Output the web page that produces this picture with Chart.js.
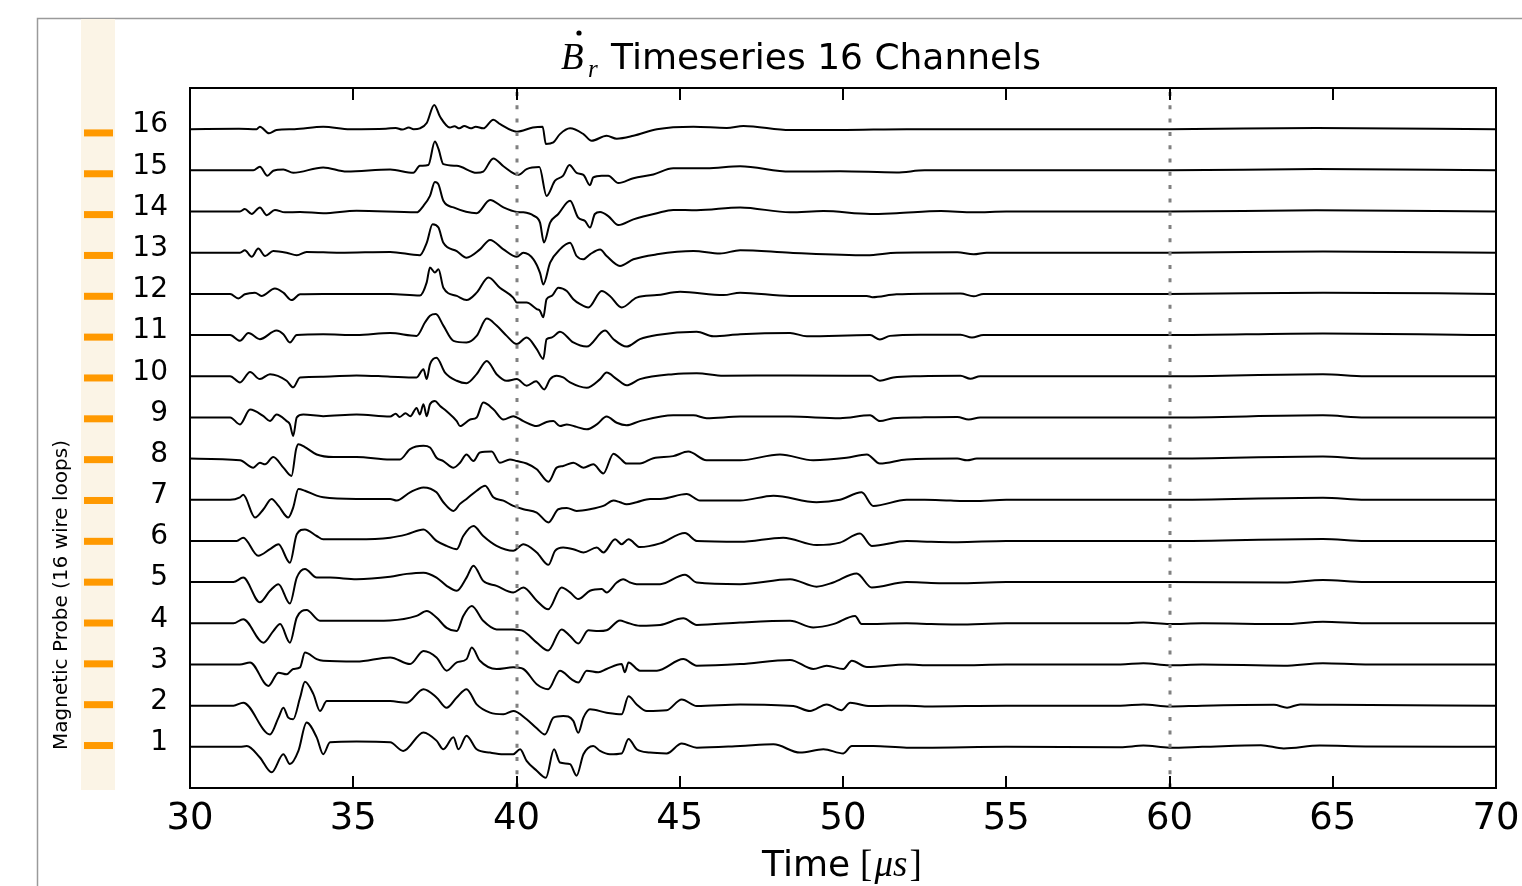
<!DOCTYPE html>
<html>
<head>
<meta charset="utf-8">
<script src="https://cdn.jsdelivr.net/npm/chart.js@4.4.1/dist/chart.umd.min.js"></script>
<style>
  html, body { margin: 0; padding: 0; background: #fff; }
  #wrap { width: 1522px; height: 886px; position: relative; }
</style>
</head>
<body>
<div id="wrap"><canvas id="probeChart" width="1522" height="886"></canvas></div>
<script>
// x axis ticks (µs) and the two marker times
const xTicks = [30, 35, 40, 45, 50, 55, 60, 65, 70];
const markerTimes = [40, 60];
const channels = [1, 2, 3, 4, 5, 6, 7, 8, 9, 10, 11, 12, 13, 14, 15, 16];

// [time µs, signal] per channel, signal in units of channel spacing
const ch1 = [[30,0],[31.53,0],[31.74,0.02],[32.14,-0.26],[32.5,-0.62],[32.86,-0.18],[33.06,-0.42],[33.32,-0.1],[33.57,0.59],[33.88,0.23],[34.08,-0.18],[34.29,0.11],[35.1,0.13],[36.13,0.11],[36.53,-0.1],[37.15,0.35],[37.55,0.15],[37.76,-0.06],[38.07,0.23],[38.22,-0.06],[38.47,0.27],[38.78,-0.06],[39.19,-0.14],[39.6,-0.18],[39.9,-0.18],[40.11,-0.06],[40.31,-0.34],[40.62,-0.58],[40.9,-0.75],[41.15,-0.06],[41.33,-0.38],[41.64,-0.42],[41.84,-0.7],[42.05,-0.18],[42.35,0.02],[42.56,-0.1],[42.86,-0.18],[43.22,-0.16],[43.43,0.19],[43.68,-0.06],[44.09,-0.14],[44.6,-0.16],[45.06,0.08],[45.52,-0.02],[46.85,0.02],[47.87,0.06],[48.68,-0.14],[49.4,-0.06],[50.01,-0.16],[50.27,0.02],[50.93,0.02],[51.95,-0.02],[52.5,-0.02],[55,0],[58.5,-0.01],[59.2,0.03],[60,-0.02],[61,0],[62.8,0.04],[63.5,-0.04],[64.6,0.03],[66,0.01],[70,0]];
const ch2 = [[30,0],[31.33,0],[31.63,0.07],[32.45,-0.7],[32.71,-0.29],[32.86,-0.05],[33.01,-0.29],[33.16,-0.33],[33.37,0.19],[33.52,0.58],[33.78,0.28],[33.98,-0.13],[34.19,0.11],[35.1,0.11],[36.13,0.11],[36.64,0.07],[37.15,0.4],[37.55,0.2],[37.86,-0.05],[38.17,0.2],[38.47,0.4],[38.78,0.03],[39.19,-0.17],[39.6,-0.21],[39.9,-0.13],[40.31,-0.33],[40.62,-0.55],[40.87,-0.7],[41.13,-0.29],[41.43,-0.25],[41.74,-0.37],[41.89,-0.66],[42.05,-0.29],[42.25,-0.09],[42.76,-0.17],[43.22,-0.21],[43.43,0.23],[43.68,0.03],[43.99,-0.13],[44.6,-0.11],[45.06,0.15],[45.52,-0.01],[46.85,0.03],[48.48,-0.01],[48.99,-0.13],[49.5,0.03],[49.96,-0.11],[50.22,0.07],[50.83,-0.01],[51.95,0],[52.5,-0.02],[55,0],[58.5,0],[59.2,0.03],[60,-0.02],[61,0],[63.2,0.02],[63.6,-0.05],[64,0.03],[65,0.02],[70,0]];
const ch3 = [[30,0],[31.53,0],[31.84,0.05],[32.4,-0.52],[32.71,-0.2],[32.96,-0.24],[33.16,-0.11],[33.37,-0.07],[33.52,0.29],[33.88,0.13],[34.08,0.09],[35.1,0.07],[36.13,0.17],[36.74,0.01],[37.15,0.33],[37.55,0.17],[37.86,-0.15],[38.17,0.05],[38.47,0.13],[38.63,0.41],[38.88,0.09],[39.39,-0.11],[39.9,-0.07],[40.21,-0.11],[40.62,-0.48],[40.97,-0.6],[41.33,-0.15],[41.69,-0.36],[41.89,-0.44],[42.15,-0.15],[42.51,-0.19],[42.76,-0.11],[43.22,0.01],[43.32,-0.19],[43.43,0.05],[43.78,-0.15],[44.3,-0.15],[45.11,0.13],[45.52,-0.03],[46.85,0.01],[48.38,0.11],[49.09,-0.11],[49.5,-0.03],[50.01,-0.11],[50.27,0.09],[50.73,-0.06],[51.95,0],[52.7,-0.02],[53.5,-0.02],[55,0],[58.5,0],[59.2,0.03],[60,-0.02],[61,0],[63.5,-0.03],[64.7,0.03],[66,0],[70,0]];
const ch4 = [[30,0],[31.33,0],[31.63,0.1],[32.25,-0.47],[32.55,-0.19],[32.76,-0.02],[33.06,-0.47],[33.27,0.14],[33.57,0.32],[33.98,0.06],[34.29,0.06],[35.1,0.06],[36.13,0.07],[36.94,0.18],[37.25,0.3],[37.55,0.14],[37.86,-0.11],[38.17,-0.19],[38.37,0.18],[38.63,0.42],[38.98,0.06],[39.39,-0.15],[39.9,-0.15],[40.21,-0.19],[40.62,-0.47],[40.97,-0.66],[41.38,-0.15],[41.64,-0.31],[41.89,-0.49],[42.2,-0.17],[42.51,-0.19],[42.76,-0.17],[43.17,0.07],[43.37,0.02],[43.78,-0.06],[44.4,-0.04],[45.11,0.12],[45.52,-0.04],[46.85,0.02],[48.38,0.06],[49.09,-0.1],[49.7,-0.02],[50.37,0.18],[50.57,-0.02],[51.95,0],[52.7,-0.02],[53.5,-0.03],[55,0],[58.5,0],[59.2,0.02],[60,-0.02],[61,0],[63.5,-0.02],[64.7,0.04],[66,0],[70,0]];
const ch5 = [[30,0],[31.33,0],[31.63,0.11],[32.14,-0.49],[32.45,-0.21],[32.71,-0.05],[33.06,-0.52],[33.27,0.11],[33.52,0.32],[33.88,0.11],[34.29,0.11],[35.1,0.07],[36.13,0.13],[36.64,0.2],[37.15,0.23],[37.55,0.11],[37.86,-0.09],[38.17,-0.21],[38.47,0.11],[38.68,0.4],[38.98,0.03],[39.39,-0.09],[39.9,-0.25],[40.21,-0.13],[40.62,-0.45],[40.97,-0.66],[41.38,-0.13],[41.64,-0.25],[41.89,-0.41],[42.25,-0.21],[42.61,-0.17],[42.76,-0.25],[43.07,-0.01],[43.27,0.07],[43.48,-0.01],[43.68,-0.05],[44.4,-0.05],[45.16,0.18],[45.52,-0.01],[46.85,-0.05],[48.38,0.07],[49.19,-0.11],[49.7,-0.01],[50.42,0.21],[50.88,-0.13],[51.95,0],[52.7,-0.02],[53.5,-0.03],[55,0],[60,0],[63.5,-0.01],[64.7,0.05],[66,0],[70,0]];
const ch6 = [[30,0],[31.43,0],[31.63,0.08],[32.09,-0.36],[32.45,-0.2],[32.71,-0.08],[33.06,-0.53],[33.27,0.16],[33.52,0.28],[33.88,0.12],[34.08,0.04],[35.1,0.04],[36.13,0.08],[36.64,0.16],[37.15,0.28],[37.55,0],[37.86,-0.12],[38.17,-0.2],[38.37,0.12],[38.68,0.36],[38.98,0.12],[39.39,-0.12],[39.9,-0.24],[40.21,-0.08],[40.62,-0.28],[40.98,-0.58],[41.18,-0.24],[41.43,-0.16],[41.74,-0.2],[42.05,-0.28],[42.46,-0.16],[42.66,-0.28],[43.02,0.04],[43.22,-0.08],[43.43,0.04],[43.78,-0.15],[44.4,-0.06],[45.16,0.19],[45.52,0],[46.85,-0.02],[48.17,0.08],[49.19,-0.1],[49.91,-0.04],[50.52,0.18],[50.88,-0.12],[51.95,0],[52.7,-0.02],[53.5,-0.03],[55,0],[60,0],[64.7,0.05],[66,0],[70,0]];
const ch7 = [[30,0],[31.23,0],[31.53,0.06],[31.63,0.12],[31.99,-0.43],[32.25,-0.23],[32.5,0.02],[32.71,-0.15],[33.01,-0.43],[33.16,-0.19],[33.32,0.26],[33.52,0.22],[33.88,0.1],[34.08,0.06],[35.1,0.02],[36.13,0.02],[36.33,-0.02],[36.74,0.18],[37.15,0.3],[37.55,0.18],[37.76,-0.06],[38.07,-0.27],[38.27,-0.1],[38.47,0.02],[38.78,0.22],[39.04,0.34],[39.29,0.06],[39.6,-0.02],[39.9,-0.15],[40.21,-0.23],[40.62,-0.31],[40.98,-0.55],[41.28,-0.23],[41.54,-0.2],[41.84,-0.27],[42.25,-0.23],[42.66,-0.15],[42.97,-0.02],[43.17,-0.06],[43.37,-0.11],[43.68,-0.06],[44.09,0.02],[44.4,0.02],[45.21,0.14],[45.62,-0.02],[46.85,-0.02],[47.87,0.1],[49.19,-0.06],[49.91,0],[50.57,0.18],[50.93,-0.15],[51.95,0],[52.5,0],[53.3,-0.02],[54,-0.03],[55,0],[60,0],[64.7,0.05],[66,0],[70,0]];
const ch8 = [[30,0],[31.53,-0.04],[31.94,-0.22],[32.14,-0.1],[32.3,-0.14],[32.55,0.04],[32.86,-0.22],[33.11,-0.42],[33.25,0.23],[33.32,0.35],[33.52,0.28],[33.88,0.1],[34.39,0.04],[35.1,0.04],[36.13,-0.02],[36.43,-0.02],[36.74,0.23],[37.15,0.31],[37.35,0.27],[37.55,0.02],[37.76,-0.06],[38.07,-0.22],[38.27,-0.1],[38.47,0.1],[38.68,-0.06],[38.88,0.15],[39.24,0.17],[39.49,-0.1],[39.8,-0.02],[40.01,-0.06],[40.31,-0.12],[40.62,-0.26],[40.98,-0.56],[41.23,-0.22],[41.43,-0.18],[41.74,-0.1],[42.05,-0.22],[42.35,-0.14],[42.66,-0.36],[42.97,0.12],[43.17,0.01],[43.37,-0.12],[43.78,-0.12],[44.19,0.01],[44.8,0.06],[45.26,0.17],[45.82,-0.04],[46.85,-0.04],[48.07,0.1],[49.09,-0.04],[50.11,0.02],[50.73,0.1],[51.13,-0.12],[51.95,-0.02],[53.5,0],[53.8,-0.04],[54.1,0],[60,0],[64.7,0.05],[66,0],[70,0]];
const ch9 = [[30,0],[31.23,0],[31.53,-0.17],[31.84,0.19],[32.25,0.03],[32.45,-0.09],[32.65,0.07],[32.96,-0.09],[33.06,-0.17],[33.16,-0.45],[33.27,0],[33.47,0.07],[34.08,0.03],[35.1,0.07],[36.13,0.02],[36.3,0.09],[36.42,0.01],[36.6,0.1],[36.75,0.03],[36.94,0.23],[37.04,0.07],[37.15,0.32],[37.25,0.03],[37.35,0.32],[37.5,0.4],[37.66,0.28],[37.86,0.15],[38.17,-0.09],[38.27,-0.21],[38.58,-0.05],[38.78,0],[38.98,0.36],[39.29,0.2],[39.6,-0.05],[39.9,0.03],[40.21,-0.09],[40.62,-0.21],[40.92,-0.11],[41.13,-0.09],[41.33,-0.21],[41.54,-0.17],[41.84,-0.23],[42.15,-0.29],[42.46,-0.17],[42.76,0.02],[43.07,-0.13],[43.37,-0.19],[43.78,-0.09],[44.8,0.05],[45.42,0.05],[45.82,-0.02],[46.85,0.02],[48.38,0.02],[49.91,-0.02],[50.83,0.05],[51.13,-0.09],[51.54,-0.02],[52.36,0],[53.5,0.01],[53.85,-0.05],[54.2,0],[60,0],[64.7,0.05],[66,0],[70,0]];
const ch10 = [[30,0],[31.23,0],[31.53,-0.15],[31.84,0.1],[32.14,-0.07],[32.45,0.05],[32.96,-0.11],[33.16,-0.27],[33.37,-0.03],[34.08,-0.01],[35.1,0.02],[36.13,-0.01],[36.94,-0.03],[37.15,0.17],[37.25,-0.07],[37.35,0.29],[37.55,0.45],[37.81,0.09],[38.17,-0.11],[38.47,-0.17],[38.78,0.05],[39.09,0.37],[39.39,0.05],[39.7,-0.11],[40.01,-0.07],[40.31,-0.23],[40.6,-0.12],[40.85,-0.32],[41.03,-0.07],[41.23,0.01],[41.43,-0.03],[41.64,-0.15],[42.15,-0.28],[42.56,-0.07],[42.76,0.09],[43.07,-0.07],[43.37,-0.22],[43.78,-0.07],[44.8,0.05],[45.52,0.07],[46.34,0.01],[48.38,0.02],[50.83,0.01],[51.13,-0.11],[51.54,-0.03],[52.36,0],[53.6,0.01],[53.9,-0.06],[54.2,0],[60,0],[64.7,0.05],[66,0],[70,0]];
const ch11 = [[30,0],[31.23,0],[31.53,-0.14],[31.79,0.05],[32.14,-0.1],[32.65,0.11],[32.86,0.02],[33.06,-0.18],[33.27,0],[34.08,0.02],[35.1,0],[36.13,0.05],[36.94,-0.02],[37.2,0.31],[37.35,0.47],[37.53,0.51],[37.76,0.23],[38.07,-0.14],[38.47,-0.18],[38.78,-0.02],[39.09,0.4],[39.39,0.23],[39.7,-0.02],[40.01,-0.22],[40.31,-0.06],[40.62,-0.34],[40.82,-0.58],[40.92,-0.1],[41.08,-0.06],[41.33,0.08],[41.74,-0.18],[42.15,-0.28],[42.71,0.11],[42.97,-0.1],[43.37,-0.28],[43.78,-0.1],[44.3,0],[45.52,0.08],[46.03,-0.03],[46.85,0.02],[48.38,0.05],[48.89,-0.03],[50.83,0],[51.13,-0.11],[51.44,-0.02],[52.36,0.01],[53.6,0.01],[53.95,-0.06],[54.3,0],[60,0],[64.7,0.04],[70,0]];
const ch12 = [[30,0],[31.23,0],[31.48,-0.11],[31.68,-0.01],[31.99,0.03],[32.19,-0.05],[32.6,0.13],[32.86,0.03],[33.11,-0.15],[33.37,-0.01],[34.08,0],[36.13,0],[37.04,-0.04],[37.25,0.28],[37.35,0.64],[37.5,0.52],[37.61,0.6],[37.76,0.15],[38.17,-0.05],[38.47,-0.15],[38.78,0.03],[39.14,0.4],[39.49,0.15],[39.9,-0.09],[40.01,-0.21],[40.31,-0.21],[40.62,-0.37],[40.72,-0.41],[40.82,-0.57],[40.92,-0.13],[41.08,-0.05],[41.28,0.15],[41.54,0.07],[41.74,-0.13],[41.95,-0.25],[42.2,-0.33],[42.61,0.07],[42.86,-0.05],[43.22,-0.33],[43.68,-0.09],[44.3,-0.03],[45.01,0.05],[46.34,-0.03],[46.85,0.03],[48.38,-0.05],[50.73,-0.05],[50.9,-0.08],[51.64,-0.01],[53.6,0.01],[54,-0.06],[54.3,0],[60,0],[64.7,0.03],[70,0]];
const ch13 = [[30,0],[31.53,0],[31.68,0.06],[31.89,-0.1],[32.09,0.1],[32.3,-0.08],[32.55,0.04],[32.96,0],[33.27,-0.06],[33.57,0.02],[34.59,0],[36.13,0.02],[37.04,-0.06],[37.25,0.24],[37.43,0.69],[37.61,0.61],[37.76,0.24],[38.17,0.04],[38.47,-0.12],[38.88,0.08],[39.19,0.31],[39.6,0.08],[40.01,-0.1],[40.21,0],[40.52,-0.16],[40.72,-0.49],[40.82,-0.77],[41.03,-0.24],[41.33,0.08],[41.64,0.24],[41.84,-0.08],[42.05,-0.16],[42.25,-0.04],[42.56,0.08],[42.76,-0.08],[43.17,-0.32],[43.58,-0.16],[44.3,-0.04],[45.42,0.04],[46.23,-0.02],[46.85,0.06],[48.38,0],[50.73,-0.06],[51.64,0],[53.5,0.01],[54,-0.04],[54.4,0],[60,0],[64.7,0.03],[70,0]];
const ch14 = [[30,0],[31.53,0],[31.68,0.06],[31.89,-0.06],[32.14,0.1],[32.35,-0.09],[32.6,0.04],[32.91,-0.02],[33.37,-0.01],[34.08,-0.04],[35.1,0.02],[36.94,-0.02],[37.15,0.14],[37.35,0.38],[37.5,0.72],[37.61,0.66],[37.76,0.26],[38.07,0.1],[38.78,-0.04],[39.19,0.28],[39.6,0.1],[40.01,-0.01],[40.21,-0.02],[40.52,-0.1],[40.72,-0.27],[40.84,-0.75],[41.03,-0.27],[41.28,-0.06],[41.64,0.26],[41.89,-0.15],[42.1,-0.23],[42.25,-0.39],[42.4,-0.06],[42.56,-0.01],[42.81,-0.11],[43.12,-0.33],[43.58,-0.19],[44.3,-0.04],[44.8,0.04],[45.52,0.03],[46.85,0.1],[48.38,-0.02],[49.4,0.01],[50.83,-0.06],[51.64,-0.04],[53,0.01],[54,-0.02],[55,0],[60,0],[64.5,0.03],[70,0]];
const ch15 = [[30,0],[31.94,0],[32.14,0.09],[32.37,-0.13],[32.55,-0.01],[32.86,0.02],[33.16,-0.06],[34.08,0.07],[34.8,-0.03],[36.13,0.02],[36.84,-0.06],[37.04,0.11],[37.3,0.13],[37.5,0.7],[37.61,0.52],[37.76,0.15],[38.17,0.11],[38.78,-0.06],[38.98,-0.03],[39.29,0.29],[39.6,0.1],[40.06,-0.11],[40.31,0.03],[40.7,0.08],[40.92,-0.62],[41.18,-0.25],[41.43,-0.13],[41.62,0.13],[41.84,-0.06],[42.05,-0.11],[42.25,-0.36],[42.35,-0.17],[42.61,-0.13],[42.81,-0.13],[43.12,-0.31],[43.58,-0.19],[44.19,-0.1],[44.8,0.05],[45.82,0.05],[46.85,0.1],[48.38,-0.03],[49.91,-0.02],[51.64,-0.05],[52.5,0],[60,0],[64.5,0.03],[70,0]];
const ch16 = [[30,0],[31.5,0.01],[32.04,0],[32.14,0.06],[32.42,-0.1],[32.65,-0.02],[33.2,0],[34.08,0.06],[34.9,0],[36,0.01],[36.3,0.03],[36.5,-0.01],[36.7,0.04],[36.85,0],[37.04,0.02],[37.25,0.15],[37.48,0.59],[37.66,0.3],[37.96,0.04],[38.1,0.07],[38.25,0.02],[38.4,0.08],[38.6,0.02],[38.75,0.06],[38.98,0.02],[39.29,0.23],[39.5,0.12],[40.01,-0.06],[40.5,0.04],[40.8,0.06],[40.9,-0.36],[41.13,-0.32],[41.33,-0.12],[41.64,0.02],[42.05,-0.12],[42.3,-0.28],[42.76,-0.16],[43.07,-0.23],[43.58,-0.16],[44.3,0],[45.42,0.06],[46.44,0.03],[46.95,0.08],[48.38,-0.02],[49.91,-0.02],[51.95,0],[55,0],[60,0],[64.5,0.03],[70,0]];

const series = [ch1, ch2, ch3, ch4, ch5, ch6, ch7, ch8, ch9, ch10, ch11, ch12, ch13, ch14, ch15, ch16];

// each channel is drawn on its own baseline (channel number)
const datasets = channels.map((k, i) => ({
  label: 'Channel ' + k,
  data: series[i].map(([t, v]) => ({ x: t, y: k + v })),
  borderColor: '#000',
  borderWidth: 2,
  pointRadius: 0,
  cubicInterpolationMode: 'monotone',
  fill: false
}));

// titles, probe strip, dotted markers, frame and inward ticks
const decor = {
  id: 'decor',
  beforeDraw(chart) {
    const { ctx, chartArea: a, scales } = chart;
    ctx.save();
    ctx.fillStyle = '#fff';
    ctx.fillRect(0, 0, chart.width, chart.height);

    ctx.strokeStyle = '#9a9a9a';
    ctx.lineWidth = 1.5;
    ctx.beginPath();
    ctx.moveTo(37.5, chart.height);
    ctx.lineTo(37.5, 18.5);
    ctx.lineTo(chart.width, 18.5);
    ctx.stroke();

    ctx.fillStyle = '#fbf4e6';
    ctx.fillRect(81, 19, 34, a.bottom + 2 - 19);
    ctx.fillStyle = '#ff9900';
    channels.forEach(k => {
      const y = scales.probe.getPixelForValue(k);
      ctx.fillRect(84, y - 3.5, 29, 7);
    });

    ctx.translate(62, 595);
    ctx.rotate(-Math.PI / 2);
    ctx.fillStyle = '#000';
    ctx.font = '20px "DejaVu Sans"';
    ctx.textAlign = 'center';
    ctx.textBaseline = 'middle';
    ctx.fillText('Magnetic Probe (16 wire loops)', 0, 0);
    ctx.restore();
  },
  afterDatasetsDraw(chart) {
    const { ctx, chartArea: a, scales } = chart;
    const x = scales.x;
    ctx.save();
    ctx.strokeStyle = '#808080';
    ctx.lineWidth = 3;
    ctx.setLineDash([4, 9.3]);
    markerTimes.forEach(t => {
      const px = Math.round(x.getPixelForValue(t));
      ctx.beginPath();
      ctx.moveTo(px, a.top + 4);
      ctx.lineTo(px, a.bottom);
      ctx.stroke();
    });
    ctx.setLineDash([]);

    ctx.strokeStyle = '#000';
    ctx.lineWidth = 2;
    xTicks.slice(1, -1).forEach(t => {
      const px = Math.round(x.getPixelForValue(t));
      ctx.beginPath();
      ctx.moveTo(px, a.bottom);
      ctx.lineTo(px, a.bottom - 12);
      ctx.moveTo(px, a.top);
      ctx.lineTo(px, a.top + 12);
      ctx.stroke();
    });
    ctx.strokeRect(a.left, a.top, a.right - a.left, a.bottom - a.top);
    ctx.restore();
  },
  afterDraw(chart) {
    const { ctx } = chart;
    ctx.save();
    ctx.fillStyle = '#000';
    ctx.textBaseline = 'alphabetic';
    ctx.textAlign = 'left';
    // title: B-dot with subscript r
    ctx.font = 'italic 37px "Liberation Serif"';
    ctx.fillText('B', 561, 69);
    ctx.beginPath();
    ctx.arc(579, 33, 2.6, 0, Math.PI * 2);
    ctx.fill();
    ctx.font = 'italic 25px "Liberation Serif"';
    ctx.fillText('r', 588, 77);
    ctx.font = '36px "DejaVu Sans"';
    ctx.fillText('Timeseries 16 Channels', 611, 69);

    // x axis title
    ctx.font = '36px "DejaVu Sans"';
    ctx.fillText('Time', 762, 876);
    const tx = 762 + ctx.measureText('Time').width + 10;
    ctx.font = '37px "Liberation Serif"';
    ctx.fillText('[', tx, 876);
    const bw = ctx.measureText('[').width;
    ctx.font = 'italic 37px "Liberation Serif"';
    ctx.fillText('μs', tx + bw + 2, 876);
    const mw = ctx.measureText('μs').width;
    ctx.font = '37px "Liberation Serif"';
    ctx.fillText(']', tx + bw + 4 + mw, 876);
    ctx.restore();
  }
};

new Chart(document.getElementById('probeChart'), {
  type: 'line',
  data: { datasets },
  options: {
    responsive: false,
    animation: false,
    devicePixelRatio: 1,
    layout: { padding: { left: 0, right: 26, top: 88, bottom: 0 } },
    plugins: {
      legend: { display: false },
      tooltip: { enabled: false },
      title: { display: false }
    },
    scales: {
      x: {
        type: 'linear',
        min: 30,
        max: 70,
        afterBuildTicks: s => { s.ticks = xTicks.map(v => ({ value: v })); },
        afterFit: s => { s.height = 98; s.paddingLeft = 0; s.paddingRight = 0; },
        grid: { display: false, drawTicks: false },
        border: { display: false },
        ticks: { font: { family: 'DejaVu Sans', size: 37 }, color: '#000', padding: 9, maxRotation: 0, autoSkip: false }
      },
      y: {
        min: 0,
        max: 17,
        afterBuildTicks: s => { s.ticks = channels.map(v => ({ value: v })); },
        afterFit: s => { s.width = 190; s.paddingTop = 0; s.paddingBottom = 0; },
        grid: { display: false, drawTicks: false },
        border: { display: false },
        ticks: { font: { family: 'DejaVu Sans', size: 28 }, color: '#000', padding: 22, labelOffset: -4, autoSkip: false }
      },
      probe: {
        position: 'left',
        display: false,
        min: -0.04,
        max: 17.1
      }
    }
  },
  plugins: [decor]
});
</script>
</body>
</html>
